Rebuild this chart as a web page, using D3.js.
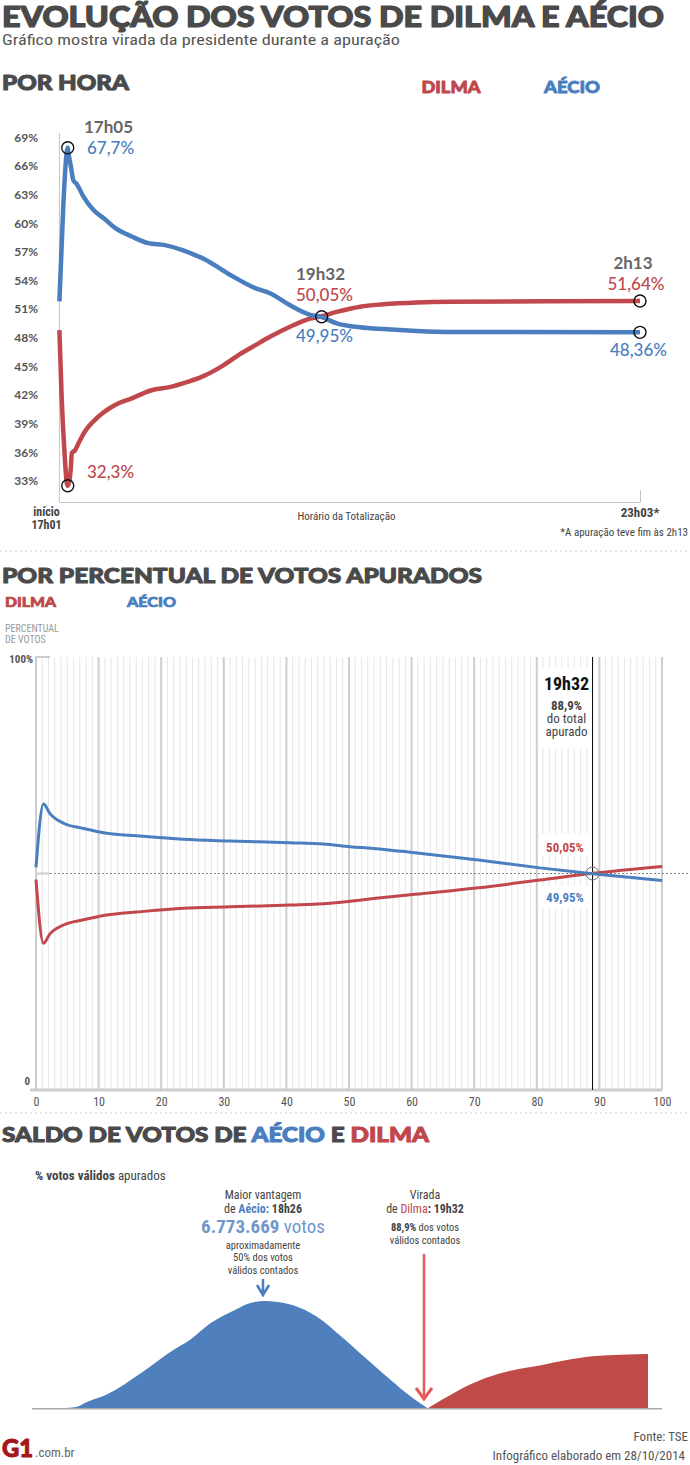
<!DOCTYPE html>
<html><head><meta charset="utf-8">
<script src="https://cdn.jsdelivr.net/npm/d3@7/dist/d3.min.js"></script>
<style>
body{margin:0;background:#fff;}
svg{display:block;}
.heavy{font-family:Lato,'Open Sans',sans-serif;font-weight:900;paint-order:stroke;}
.narrow{font-family:'Liberation Sans Narrow','Arial Narrow',Roboto,sans-serif;font-stretch:condensed;}
.prox{font-family:Lato,'Open Sans',sans-serif;}
</style></head><body>
<svg id="c" width="690" height="1465"></svg>
<script>
// ---------- DATA ----------
// Chart 1: por hora (minutes since 17h01)
const horaMinAecio = [0, 2.4, 4.6, 5.2, 5.5, 7.2, 8.7, 10.8, 14.9, 21.1, 28.4, 34.7, 45.1, 55.4, 65.8, 76.3, 82.5, 90.8, 105.3, 122, 131.3, 143.8, 156.3, 163.5, 172.9, 187.5, 201.9, 222.8, 243.5, 362];
const horaAecio    = [51.6, 61.5, 67.3, 67.7, 67.3, 65.7, 64.3, 63.9, 62.6, 61.2, 60.2, 59.3, 58.4, 57.7, 57.5, 57.0, 56.6, 56.0, 54.5, 53.0, 52.45, 51.2, 50.2, 49.95, 49.3, 48.9, 48.7, 48.5, 48.4, 48.36];
const horaMinDilma = [0, 1.4, 3.1, 4.6, 5.2, 7.2, 7.7, 9.7, 11.8, 16, 22.2, 34.7, 45.1, 57.5, 67.9, 80.4, 88.7, 101.2, 113.7, 122, 131.3, 143.8, 156.3, 163.5, 172.9, 187.5, 201.9, 222.8, 243.5, 362];
const horaDilma    = [48.6, 41.6, 36.0, 32.6, 32.3, 34.3, 35.7, 36.0, 36.7, 38.0, 39.2, 40.75, 41.45, 42.3, 42.6, 43.2, 43.7, 44.8, 46.2, 47.0, 47.9, 48.95, 49.8, 50.05, 50.5, 51.05, 51.3, 51.5, 51.57, 51.64];
const horaTicks = [69, 66, 63, 60, 57, 54, 51, 48, 45, 42, 39, 36, 33];

// Chart 2: por percentual apurado
const apuradoPct   = [0, 1.2, 2.2, 4.4, 7.6, 11.3, 16.1, 23.5, 31, 40.6, 45.9, 50.2, 53.9, 60.5, 70.7, 80.5, 88.9, 100];
const apuradoAecio = [51.4, 66.05, 63.9, 61.6, 60.4, 59.3, 58.7, 57.9, 57.5, 57.1, 56.8, 56.2, 55.8, 54.8, 53.1, 51.3, 49.95, 48.36];
const apuradoDilma = [48.6, 33.9, 36.0, 38.1, 39.3, 40.4, 41.1, 42.0, 42.3, 42.7, 43.0, 43.6, 44.2, 45.2, 46.7, 48.5, 50.05, 51.64];
const apuradoTicks = [0, 10, 20, 30, 40, 50, 60, 70, 80, 90, 100];

// Chart 3: saldo de votos (milhões), minutes since 17h01
const saldoMinAecio = [0, 7.2, 12.3, 20.6, 34, 47.3, 54, 62.4, 72.4, 79.1, 85, 89.1, 95.8, 105.8, 115.9, 125.8, 135.9, 144.2, 151];
const saldoAecio    = [0, 0.06, 0.42, 0.90, 2.21, 3.68, 4.31, 5.37, 6.21, 6.67, 6.773669, 6.73, 6.52, 5.78, 4.52, 3.16, 1.79, 0.73, 0];
const saldoMinDilma = [151, 162.6, 174.3, 184.3, 197.7, 206.1, 219.4, 240.8];
const saldoDilma    = [0, 1.05, 1.89, 2.35, 2.73, 3.0, 3.30, 3.43];

// ---------- DRAW ----------
const BLUE = '#4a7ebf', RED = '#c0474b', DARK = '#4a4a4a', GRAY = '#666';
const svg = d3.select('#c');

function parts(t, s, o) {
  s.forEach(p => {
    const sp = t.append('tspan').text(p.t);
    if (p.fill) { sp.attr('fill', p.fill); if (o.stroke) sp.attr('stroke', p.fill); }
    if (p.weight) sp.attr('font-weight', p.weight);
    if (p.size) sp.attr('font-size', p.size);
  });
}
function T(x, y, s, o) {
  o = o || {};
  const t = svg.append('text').attr('x', x).attr('y', y)
    .attr('class', o.cls || 'narrow')
    .attr('font-size', o.size || 12)
    .attr('fill', o.fill || DARK)
    .attr('text-anchor', o.anchor || 'start');
  if (o.weight) t.attr('font-weight', o.weight);
  if (o.stroke) t.attr('stroke', o.fill || DARK).attr('stroke-width', o.stroke).attr('stroke-linejoin', 'round');
  if (o.tl) t.attr('textLength', o.tl).attr('lengthAdjust', 'spacingAndGlyphs');
  if (Array.isArray(s)) parts(t, s, o); else t.text(s);
  return t;
}
// multi-line block in one text element
function ML(x, lines, o) {
  o = o || {};
  const t = svg.append('text').attr('class', o.cls || 'narrow')
    .attr('fill', o.fill || DARK).attr('text-anchor', o.anchor || 'middle').attr('font-size', o.size || 12);
  lines.forEach(l => {
    const ln = t.append('tspan').attr('x', x).attr('y', l.y);
    if (l.size) ln.attr('font-size', l.size);
    if (l.weight) ln.attr('font-weight', l.weight);
    if (l.fill) ln.attr('fill', l.fill);
    if (Array.isArray(l.s)) parts(ln, l.s, {}); else ln.text(l.s);
  });
  return t;
}

// Header
T(2, 27, 'EVOLUÇÃO DOS VOTOS DE DILMA E AÉCIO', {cls:'heavy', size:28, fill:DARK, tl:662, stroke:1.2});
T(2, 45, 'Gráfico mostra virada da presidente durante a apuração', {size:15, fill:'#555', tl:398});
T(2, 90, 'POR HORA', {cls:'heavy', size:21, fill:DARK, tl:127, stroke:1});
T(421.5, 93, 'DILMA', {cls:'heavy', size:16, fill:RED, tl:59, stroke:0.8});
T(544, 93, 'AÉCIO', {cls:'heavy', size:16, fill:BLUE, tl:56, stroke:0.8});

// ---- Chart 1 ----
const x1 = d3.scaleLinear().domain([0, 362]).range([59.4, 640]);
const y1 = d3.scaleLinear().domain([32.3, 67.7]).range([485.7, 147.7]);

const ax1 = svg.append('g').attr('transform', 'translate(38,0)')
  .call(d3.axisLeft(y1).tickValues(horaTicks).tickSize(0).tickPadding(0).tickFormat(d => d + '%'));
ax1.select('.domain').remove();
ax1.selectAll('text').attr('font-size', 12).attr('font-weight', 700)
  .attr('fill', '#555').attr('y', 2).style('font-family', 'Lato,sans-serif');

svg.append('line').attr('x1', x1(0)).attr('x2', x1(0)).attr('y1', 133).attr('y2', 502)
  .attr('stroke', '#c4c4c4').attr('stroke-width', 1);
const bx1 = svg.append('g').attr('transform', 'translate(0,502)')
  .call(d3.axisBottom(x1).tickValues([362]).tickSizeInner(-12).tickSizeOuter(0).tickFormat(''));
bx1.select('.domain').attr('stroke', '#c4c4c4');
bx1.selectAll('.tick line').attr('stroke', '#c4c4c4');

const line1A = d3.line().x((d, i) => x1(horaMinAecio[i])).y(d => y1(d)).curve(d3.curveMonotoneX);
const line1D = d3.line().x((d, i) => x1(horaMinDilma[i])).y(d => y1(d)).curve(d3.curveMonotoneX);
svg.append('path').datum(horaDilma).attr('d', line1D).attr('fill', 'none')
  .attr('stroke', RED).attr('stroke-width', 4.5).attr('stroke-linejoin', 'round');
svg.append('path').datum(horaAecio).attr('d', line1A).attr('fill', 'none')
  .attr('stroke', BLUE).attr('stroke-width', 4.5).attr('stroke-linejoin', 'round');

[[5.2, 67.7], [5.2, 32.3], [163.5, 50.0], [362, 51.64], [362, 48.36]].forEach(p => {
  svg.append('circle').attr('cx', x1(p[0])).attr('cy', y1(p[1])).attr('r', 6)
    .attr('fill', 'none').attr('stroke', '#111').attr('stroke-width', 1.4);
});

T(84, 133, '17h05', {cls:'prox', size:17, weight:700, fill:GRAY});
T(87, 154, '67,7%', {cls:'prox', size:17, weight:500, fill:BLUE});
T(87, 478, '32,3%', {cls:'prox', size:17, weight:500, fill:RED});
T(296, 280, '19h32', {cls:'prox', size:17, weight:700, fill:GRAY});
T(296, 301, '50,05%', {cls:'prox', size:17, weight:500, fill:RED});
T(296, 342, '49,95%', {cls:'prox', size:17, weight:500, fill:BLUE});
T(633, 269, '2h13', {cls:'prox', size:17, weight:700, fill:GRAY, anchor:'middle'});
T(636, 290, '51,64%', {cls:'prox', size:17, weight:500, fill:RED, anchor:'middle'});
T(638.5, 356, '48,36%', {cls:'prox', size:17, weight:500, fill:BLUE, anchor:'middle'});

ML(46.5, [{y:516, s:'início'}, {y:529, s:'17h01'}], {size:12, fill:'#444'}).attr('font-weight', 700);
T(346.5, 520, 'Horário da Totalização', {size:11, fill:'#444', anchor:'middle'});
T(640, 517, '23h03*', {size:13, weight:700, fill:'#444', anchor:'middle'});
T(688, 536, '*A apuração teve fim às 2h13', {size:11, fill:'#444', anchor:'end'});

svg.append('line').attr('x1', 0).attr('x2', 690).attr('y1', 551).attr('y2', 551)
  .attr('stroke', '#ccc').attr('stroke-dasharray', '2,3');

// ---- Chart 2 ----
T(2, 583, 'POR PERCENTUAL DE VOTOS APURADOS', {cls:'heavy', size:21, fill:DARK, tl:480, stroke:1});
T(5, 607, 'DILMA', {cls:'heavy', size:14, fill:RED, tl:51, stroke:0.7});
T(127, 607, 'AÉCIO', {cls:'heavy', size:14, fill:BLUE, tl:49, stroke:0.7});
ML(5, [{y:632, s:'PERCENTUAL'}, {y:643, s:'DE VOTOS'}], {size:10, fill:'#999', anchor:'start'});

const x2 = d3.scaleLinear().domain([0, 100]).range([36, 662]);
const y2 = d3.scaleLinear().domain([0, 100]).range([1090, 657]);

const grid = svg.append('g');
d3.range(0, 101).forEach(v => {
  const major = v % 10 === 0;
  grid.append('line').attr('x1', x2(v)).attr('x2', x2(v)).attr('y1', y2(100)).attr('y2', y2(0))
    .attr('stroke', major ? '#cdcdcd' : '#e6e6e6').attr('stroke-width', major ? 2 : 1);
});
// white boxes behind annotations
svg.append('rect').attr('x', 538).attr('y', 668).attr('width', 55).attr('height', 80).attr('fill', '#fff');
svg.append('rect').attr('x', 538).attr('y', 834).attr('width', 55).attr('height', 22).attr('fill', '#fff');
svg.append('rect').attr('x', 538).attr('y', 886).attr('width', 55).attr('height', 22).attr('fill', '#fff');

svg.append('line').attr('x1', 50).attr('x2', 690).attr('y1', y2(50)).attr('y2', y2(50))
  .attr('stroke', '#888').attr('stroke-width', 1).attr('stroke-dasharray', '2,2');
[100, 50].forEach(v => svg.append('line').attr('x1', x2(0) - 1).attr('x2', 50).attr('y1', y2(v)).attr('y2', y2(v))
  .attr('stroke', '#cdcdcd').attr('stroke-width', 2));
svg.append('line').attr('x1', 30).attr('x2', x2(100)).attr('y1', y2(0)).attr('y2', y2(0))
  .attr('stroke', '#cdcdcd').attr('stroke-width', 3);

const bx2 = svg.append('g').attr('transform', `translate(0,${y2(0)})`)
  .call(d3.axisBottom(x2).tickValues(apuradoTicks).tickSize(0).tickPadding(7));
bx2.select('.domain').remove();
bx2.selectAll('text').attr('font-size', 12).attr('fill', '#555')
  .style('font-family', "'Liberation Sans Narrow','Arial Narrow',Roboto,sans-serif").style('font-stretch', 'condensed');

T(33, 663, '100%', {size:11, weight:700, fill:'#555', anchor:'end'});
T(30, 1085, '0', {size:11, weight:700, fill:'#555', anchor:'end'});

svg.append('line').attr('x1', x2(88.9)).attr('x2', x2(88.9)).attr('y1', y2(100)).attr('y2', y2(0))
  .attr('stroke', '#111').attr('stroke-width', 1);

const line2A = d3.line().x((d, i) => x2(apuradoPct[i])).y(d => y2(d)).curve(d3.curveMonotoneX);
const line2D = d3.line().x((d, i) => x2(apuradoPct[i])).y(d => y2(d)).curve(d3.curveMonotoneX);
svg.append('path').datum(apuradoDilma).attr('d', line2D).attr('fill', 'none')
  .attr('stroke', RED).attr('stroke-width', 3).attr('stroke-linejoin', 'round');
svg.append('path').datum(apuradoAecio).attr('d', line2A).attr('fill', 'none')
  .attr('stroke', BLUE).attr('stroke-width', 3).attr('stroke-linejoin', 'round');
svg.append('circle').attr('cx', x2(88.9)).attr('cy', y2(50)).attr('r', 6.5)
  .attr('fill', 'none').attr('stroke', '#777').attr('stroke-width', 1);

ML(566.5, [
  {y:690, s:'19h32', size:18, weight:700, fill:'#111'},
  {y:710, s:'88,9%', weight:700},
  {y:723, s:'do total'},
  {y:736, s:'apurado'}
], {size:13, fill:'#444'});
T(565, 852, '50,05%', {size:13, weight:700, fill:RED, anchor:'middle'});
T(565, 902, '49,95%', {size:13, weight:700, fill:BLUE, anchor:'middle'});

svg.append('line').attr('x1', 0).attr('x2', 690).attr('y1', 1113).attr('y2', 1113)
  .attr('stroke', '#ccc').attr('stroke-dasharray', '2,3');

// ---- Chart 3 ----
T(2, 1142, [{t:'SALDO DE VOTOS DE '}, {t:'AÉCIO', fill:BLUE}, {t:' E '}, {t:'DILMA', fill:RED}],
  {cls:'heavy', size:21, fill:DARK, tl:427, stroke:1});
T(35, 1180, [{t:'% votos válidos', weight:700}, {t:' apurados'}], {size:13, fill:'#444'});

const xS = d3.scaleLinear().domain([0, 240.8]).range([57.3, 648]);
const yS = d3.scaleLinear().domain([0, 6.773669]).range([1408.3, 1301]);
const areaA = d3.area().x((d, i) => xS(saldoMinAecio[i])).y0(yS(0)).y1(d => yS(d)).curve(d3.curveMonotoneX);
const areaD = d3.area().x((d, i) => xS(saldoMinDilma[i])).y0(yS(0)).y1(d => yS(d)).curve(d3.curveMonotoneX);
svg.append('path').datum(saldoAecio).attr('d', areaA).attr('fill', '#4f7fbc');
svg.append('path').datum(saldoDilma).attr('d', areaD).attr('fill', '#bf4a48');
svg.append('line').attr('x1', 32).attr('x2', 662).attr('y1', yS(0) + 0.5).attr('y2', yS(0) + 0.5)
  .attr('stroke', '#aaa').attr('stroke-width', 1.5);

const cxA = 263, cxD = 425;
ML(cxA, [
  {y:1199, s:'Maior vantagem'},
  {y:1213, s:[{t:'de '}, {t:'Aécio:', fill:BLUE, weight:700}, {t:' 18h26', weight:700}]},
  {y:1233, size:19, fill:'#6f97cc', s:[{t:'6.773.669', weight:700}, {t:' votos'}]},
  {y:1248.5, size:10.5, s:'aproximadamente'},
  {y:1261, size:10.5, s:'50% dos votos'},
  {y:1273.5, size:10.5, s:'válidos contados'}
], {size:12, fill:'#444'});

ML(cxD, [
  {y:1199, s:'Virada'},
  {y:1213, s:[{t:'de '}, {t:'Dilma', fill:RED}, {t:': 19h32', weight:700}]},
  {y:1231, size:10.5, s:[{t:'88,9%', weight:700}, {t:' dos votos'}]},
  {y:1243.5, size:10.5, s:'válidos contados'}
], {size:12, fill:'#444'});

// blue arrow
svg.append('line').attr('x1', cxA).attr('x2', cxA).attr('y1', 1279).attr('y2', 1292)
  .attr('stroke', BLUE).attr('stroke-width', 2.5);
svg.append('path').attr('d', `M${cxA - 6},1285 L${cxA},1295 L${cxA + 6},1285`)
  .attr('fill', 'none').attr('stroke', BLUE).attr('stroke-width', 2.5).attr('stroke-linejoin', 'miter');
// red arrow
const RA = '#e65a5b';
svg.append('line').attr('x1', 424).attr('x2', 424).attr('y1', 1254).attr('y2', 1396)
  .attr('stroke', RA).attr('stroke-width', 2.5);
svg.append('path').attr('d', 'M416,1388 L424,1399 L432,1388')
  .attr('fill', 'none').attr('stroke', RA).attr('stroke-width', 3);

// footer
T(2, 1457, 'G1', {cls:'heavy', size:24, fill:'#a3161b', tl:31, stroke:1});
T(35, 1457, '.com.br', {size:13, fill:'#666'});
T(688, 1441, 'Fonte: TSE', {size:13, fill:'#555', anchor:'end'});
T(685, 1460, 'Infográfico elaborado em 28/10/2014', {size:13, fill:'#555', anchor:'end'});
</script></body></html>
